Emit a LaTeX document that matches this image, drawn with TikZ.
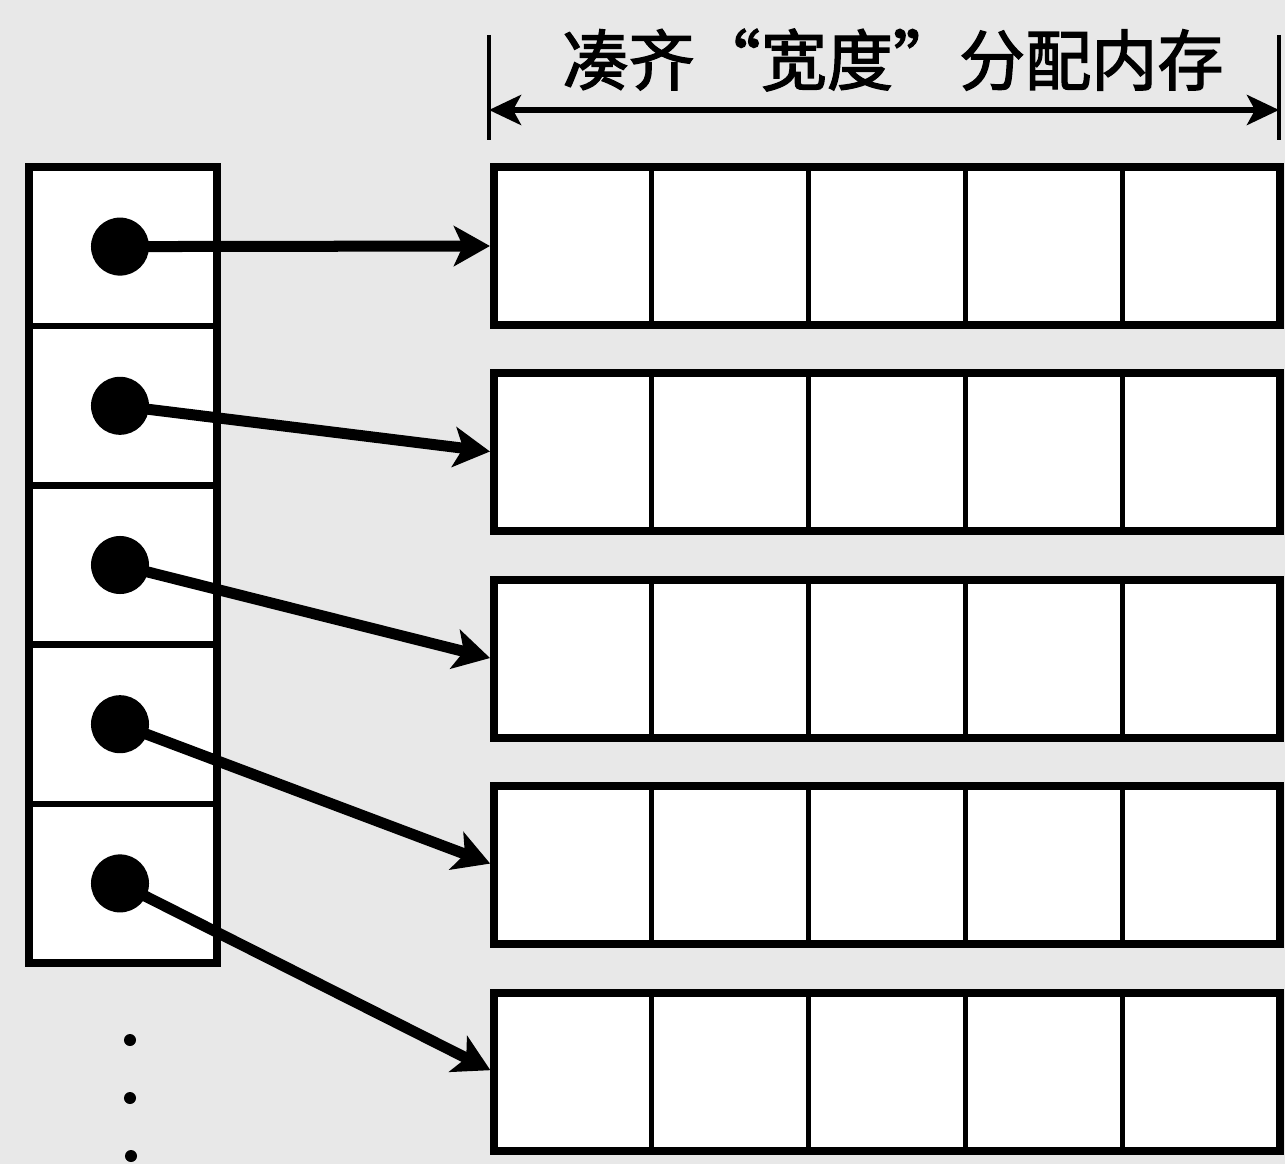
\documentclass[tikz,border=0pt]{standalone}
\usepackage{fontspec}
\newfontfamily\cjk{Noto Sans CJK SC}[FakeBold=2]
\usetikzlibrary{arrows.meta}
\definecolor{bgcol}{RGB}{232,232,232}
\begin{document}
\begin{tikzpicture}[x=0.01cm,y=-0.01cm,
  lcell/.style={draw=black, fill=white, line width=0.065cm, inner sep=0pt, outer sep=0pt,
                minimum width=1.88cm, minimum height=1.592cm},
  rcell/.style={draw=black, fill=white, line width=0.05cm, inner sep=0pt, outer sep=0pt,
                minimum width=1.572cm, minimum height=1.58cm},
  frame/.style={draw=black, line width=0.085cm},
  pdot/.style={circle, fill=black, inner sep=0pt, outer sep=0pt, minimum size=0.58cm},
  sdot/.style={circle, fill=black, inner sep=0pt, minimum size=0.12cm},
  ptr/.style={line width=0.11cm, -{Stealth[length=0.36cm, width=0.4cm, inset=0.09cm]}, shorten >=0.04cm},
  dimline/.style={line width=0.055cm, {Stealth[length=0.32cm, width=0.3cm, inset=0.08cm]}-{Stealth[length=0.32cm, width=0.3cm, inset=0.08cm]}},
  bar/.style={line width=0.045cm},
  title/.style={font=\cjk\fontsize{18.8}{20}\selectfont, inner sep=0pt}
]
\fill[bgcol] (0,0) rectangle (1285,1164);
\useasboundingbox (0,0) rectangle (1285,1164);

% left pointer column
\foreach \i/\y in {1/246.6,2/405.8,3/565,4/724.2,5/883.4} {
  \node[lcell] (c\i) at (123,\y) {};
}
\draw[frame] (c1.north west) rectangle (c5.south east);
\foreach \i/\y in {1/246.6,2/405.8,3/565,4/724.2,5/883.4} {
  \node[pdot] (d\i) at (120,\y) {};
}

% right rows
\foreach \i/\y in {1/246,2/452,3/659,4/865,5/1072} {
  \foreach \k/\x in {1/572.6,2/729.8,3/887,4/1044.2,5/1201.4} {
    \node[rcell] (r\i-\k) at (\x,\y) {};
  }
  \draw[frame] (r\i-1.north west) rectangle (r\i-5.south east);
}

% pointers
\foreach \i in {1,...,5} {
  \draw[ptr] (d\i.center) -- (r\i-1.west);
}

% width dimension
\coordinate (lt) at (489,35);
\coordinate (lb) at (489,140);
\coordinate (rt) at (1279,35);
\coordinate (rb) at (1279,140);
\coordinate (la) at (489,110);
\coordinate (ra) at (1279,110);
\draw[bar] (lt) -- (lb);
\draw[bar] (rt) -- (rb);
\draw[dimline] (la) -- (ra);
\node[title] (t) at (893,60) {凑齐“宽度”分配内存};

% continuation dots
\node[sdot] (e1) at (130,1040) {};
\node[sdot] (e2) at (130,1098) {};
\node[sdot] (e3) at (131,1156) {};
\end{tikzpicture}
\end{document}
